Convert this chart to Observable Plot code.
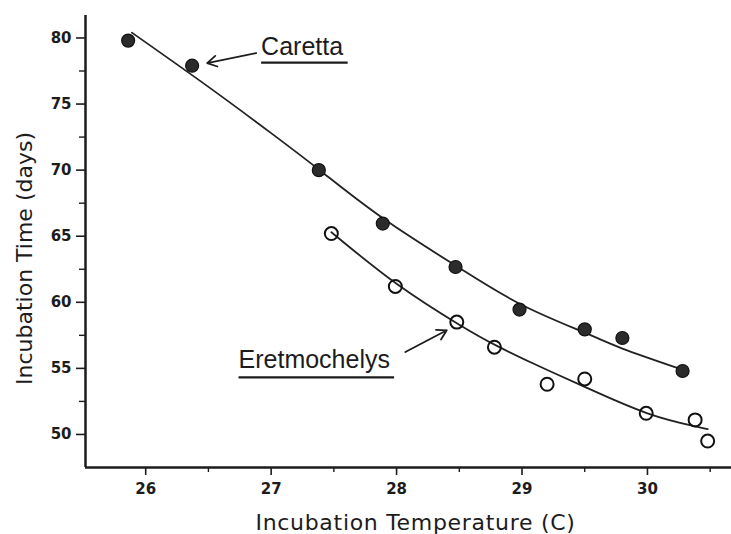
<!DOCTYPE html>
<html><head><meta charset="utf-8">
<script src="https://cdn.jsdelivr.net/npm/d3@7"></script>
<script src="https://cdn.jsdelivr.net/npm/@observablehq/plot@0.6"></script>
<style>
html,body{margin:0;padding:0;background:#fff;}
#chart svg{display:block;}
</style></head><body><div id="chart"></div>
<script>
// ---- data ----
const carettaTemp = [25.86, 26.37, 27.38, 27.89, 28.47, 28.98, 29.50, 29.80, 30.28];
const carettaDays = [79.8, 77.9, 70.0, 65.96, 62.67, 59.45, 57.95, 57.3, 54.8];
const eretTemp = [27.48, 27.99, 28.48, 28.78, 29.20, 29.50, 29.99, 30.38, 30.48];
const eretDays = [65.2, 61.2, 58.5, 56.6, 53.8, 54.2, 51.6, 51.1, 49.5];

// fitted curves as drawn in the figure
const carettaFitTemp = [25.89, 26.5, 27.0, 27.4, 27.9, 28.5, 29.0, 29.5, 29.8, 30.28];
const carettaFitDays = [80.4, 76.3, 72.8, 69.9, 66.3, 62.6, 59.8, 57.7, 56.5, 54.9];
const eretFitTemp = [27.48, 28.0, 28.5, 28.8, 29.15, 29.5, 30.0, 30.39, 30.48];
const eretFitDays = [65.3, 61.4, 58.3, 56.7, 55.1, 53.6, 51.6, 50.6, 50.4];

const xTicks = [26, 27, 28, 29, 30];
const xMinorTicks = [26.5, 27.5, 28.5, 29.5, 30.5];
const yTicks = [50, 55, 60, 65, 70, 75, 80];
const yMinorTicks = [52.5, 57.5, 62.5, 67.5, 72.5, 77.5];
const xDomain = [25.52, 30.67];
const yDomain = [47.5, 81.7];

const xTitle = "Incubation Temperature (C)";
const yTitle = "Incubation Time (days)";

// annotation labels (data coordinates)
const labelNames = ["Caretta", "Eretmochelys"];
const labelTemp = [26.92, 26.74];
const labelDays = [78.72, 55.0];
const underlineTemp1 = [26.92, 26.74];
const underlineTemp2 = [27.61, 27.98];
const underlineDays = [78.13, 54.32];
const arrowTemp1 = [26.88, 28.07];
const arrowDays1 = [78.86, 56.24];
const arrowTemp2 = [26.49, 28.40];
const arrowDays2 = [78.10, 57.88];

const zip = (xs, ys) => xs.map((x, i) => ({x, y: ys[i]}));
const caretta = zip(carettaTemp, carettaDays);
const eret = zip(eretTemp, eretDays);
const carettaFit = zip(carettaFitTemp, carettaFitDays);
const eretFit = zip(eretFitTemp, eretFitDays);
const labels = labelNames.map((name, i) => ({
  name, x: labelTemp[i], y: labelDays[i],
  ux1: underlineTemp1[i], ux2: underlineTemp2[i], uy: underlineDays[i],
  ax1: arrowTemp1[i], ay1: arrowDays1[i], ax2: arrowTemp2[i], ay2: arrowDays2[i]
}));

const ink = "#1c1c1c";
const plot = Plot.plot({
  width: 731, height: 534,
  marginLeft: 85, marginRight: 0, marginTop: 15, marginBottom: 67,
  style: {background: "#fff", fontFamily: "DejaVu Sans", color: ink},
  x: {domain: xDomain},
  y: {domain: yDomain},
  marks: [
    Plot.axisY({ticks: yTicks, tickSize: 9, tickPadding: 5, fontSize: 15, fontWeight: "bold", strokeWidth: 1.6, label: null, tickFormat: d => d}),
    Plot.axisY({ticks: yMinorTicks, tickSize: 6, strokeWidth: 1.4, label: null, tickFormat: () => ""}),
    Plot.axisX({ticks: xTicks, tickSize: 8, tickPadding: 8, fontSize: 15, fontWeight: "bold", strokeWidth: 1.6, label: null, tickFormat: d => d}),
    Plot.axisX({ticks: xMinorTicks, tickSize: 5, strokeWidth: 1.4, label: null, tickFormat: () => ""}),
    Plot.ruleX([xDomain[0]], {stroke: ink, strokeWidth: 2.5}),
    Plot.ruleY([yDomain[0]], {stroke: ink, strokeWidth: 2.5}),
    Plot.text([xTitle], {frameAnchor: "bottom", dx: 7, dy: 62, lineAnchor: "bottom", fontSize: 22, fill: ink}),
    Plot.text([yTitle], {frameAnchor: "left", textAnchor: "middle", rotate: -90, dx: -61, dy: 17, lineAnchor: "middle", fontSize: 22, fill: ink}),
    Plot.line(carettaFit, {x: "x", y: "y", curve: "natural", stroke: "#222", strokeWidth: 1.8}),
    Plot.line(eretFit, {x: "x", y: "y", curve: "natural", stroke: "#222", strokeWidth: 1.8}),
    Plot.dot(caretta, {x: "x", y: "y", r: 6.5, fill: "#2b2b2b", stroke: "#111", strokeWidth: 1.2}),
    Plot.dot(eret, {x: "x", y: "y", r: 6.5, fill: "none", stroke: "#111", strokeWidth: 2}),
    Plot.text(labels, {x: "x", y: "y", text: "name", textAnchor: "start", lineAnchor: "bottom", fontSize: 25, fontFamily: "Liberation Sans", fill: ink}),
    Plot.link(labels, {x1: "ux1", x2: "ux2", y1: "uy", y2: "uy", stroke: ink, strokeWidth: 2.2}),
    Plot.arrow(labels, {x1: "ax1", y1: "ay1", x2: "ax2", y2: "ay2", stroke: ink, strokeWidth: 1.8, headLength: 9, bend: 0})
  ]
});
d3.select(plot).selectAll("text").filter(function() { return this.textContent === xTitle; }).attr("letter-spacing", "0.7px");
document.getElementById("chart").appendChild(plot);
</script></body></html>
